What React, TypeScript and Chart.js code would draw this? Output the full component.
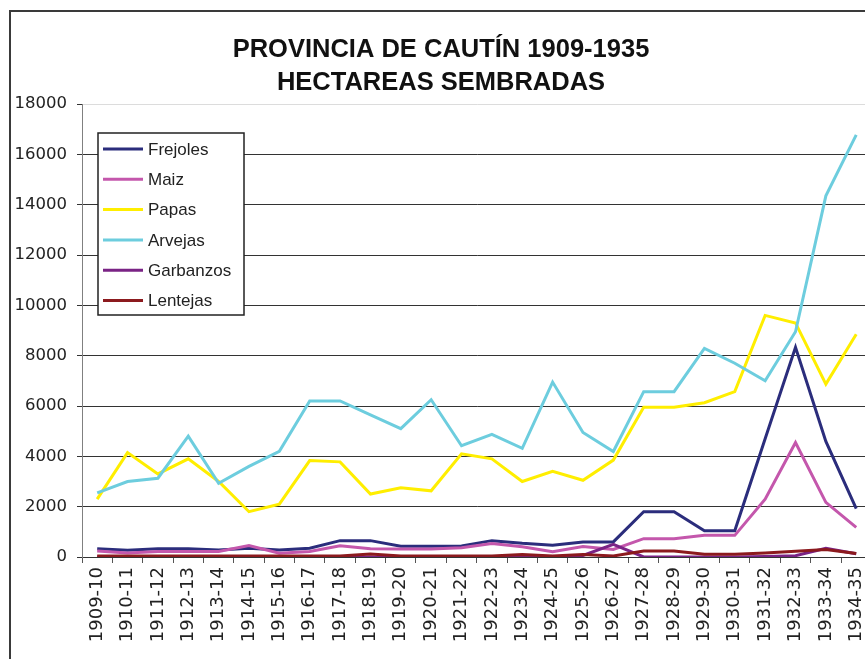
import React, { useEffect, useRef } from "react";
import { Chart, registerables } from "chart.js";

Chart.register(...registerables);

const categories = [
  "1909-10", "1910-11", "1911-12", "1912-13", "1913-14", "1914-15", "1915-16",
  "1916-17", "1917-18", "1918-19", "1919-20", "1920-21", "1921-22", "1922-23",
  "1923-24", "1924-25", "1925-26", "1926-27", "1927-28", "1928-29", "1929-30",
  "1930-31", "1931-32", "1932-33", "1933-34", "1934-35",
];

const frejoles = [330, 265, 330, 330, 280, 350, 280, 345, 650, 650, 430, 430, 440, 650, 544, 465, 600, 600, 1800, 1800, 1040, 1040, 4700, 8330, 4590, 1920];
const maiz = [240, 160, 220, 220, 220, 460, 150, 220, 450, 330, 320, 320, 370, 540, 410, 212, 420, 300, 730, 730, 860, 860, 2300, 4550, 2170, 1180];
const papas = [2300, 4150, 3300, 3900, 3000, 1800, 2100, 3830, 3780, 2500, 2750, 2630, 4100, 3900, 3000, 3400, 3050, 3850, 5950, 5950, 6130, 6570, 9600, 9300, 6870, 8850];
const arvejas = [2550, 3000, 3130, 4800, 2930, 3600, 4200, 6200, 6200, 5650, 5100, 6250, 4420, 4870, 4320, 6950, 4950, 4190, 6570, 6570, 8290, 7700, 7000, 8950, 14350, 16770];
const garbanzos = [0, 0, 0, 0, 0, 0, 0, 0, 0, 0, 0, 0, 0, 0, 0, 0, 60, 500, 0, 0, 0, 0, 20, 50, 350, 130];
const lentejas = [40, 40, 40, 40, 40, 40, 40, 40, 40, 120, 40, 40, 40, 40, 100, 40, 100, 40, 240, 240, 110, 110, 160, 230, 300, 140];

const seriesNames = ["Frejoles", "Maiz", "Papas", "Arvejas", "Garbanzos", "Lentejas"];
const seriesValues = [frejoles, maiz, papas, arvejas, garbanzos, lentejas];
const seriesColors = ["#2B2D7C", "#C457AC", "#FFEE00", "#6DCDDE", "#7A2385", "#8C1A1E"];

const yMin = 0;
const yMax = 18000;
const yStep = 2000;

const titleLines = ["PROVINCIA DE CAUTÍN 1909-1935", "HECTAREAS SEMBRADAS"];

const W = 882;
const H = 659;

const framePlugin = {
  id: "outerFrame",
  beforeDraw(chart: any) {
    const ctx = chart.ctx;
    ctx.save();
    ctx.fillStyle = "#ffffff";
    ctx.fillRect(0, 0, chart.width, chart.height);
    ctx.strokeStyle = "#3a3a3a";
    ctx.lineWidth = 2;
    ctx.beginPath();
    ctx.moveTo(10, chart.height);
    ctx.lineTo(10, 11);
    ctx.lineTo(chart.width, 11);
    ctx.stroke();
    ctx.restore();
  },
};

const boxLegendPlugin = {
  id: "boxLegend",
  afterDraw(chart: any) {
    const ctx = chart.ctx;
    const area = chart.chartArea;
    const left = area.left + 16;
    const top = area.top + 29;
    const w = 146;
    const h = 182;
    ctx.save();
    ctx.fillStyle = "#ffffff";
    ctx.fillRect(left, top, w, h);
    ctx.strokeStyle = "#222";
    ctx.lineWidth = 1.5;
    ctx.strokeRect(left, top, w, h);
    ctx.font = "17px 'Liberation Sans', Arial, sans-serif";
    ctx.textBaseline = "middle";
    ctx.textAlign = "left";
    chart.data.datasets.forEach((ds: any, i: number) => {
      const y = top + 16 + i * 30.3;
      ctx.strokeStyle = ds.borderColor;
      ctx.lineWidth = 3;
      ctx.beginPath();
      ctx.moveTo(left + 5, y);
      ctx.lineTo(left + 45, y);
      ctx.stroke();
      ctx.fillStyle = "#222";
      ctx.fillText(ds.label, left + 50, y + 1);
    });
    ctx.restore();
  },
};

export default function App() {
  const ref = useRef<HTMLCanvasElement>(null);

  useEffect(() => {
    document.body.style.overflow = "hidden";
    document.documentElement.style.overflow = "hidden";
    const yFont = { family: "'DejaVu Sans', Verdana, sans-serif", size: 16.5 };
    const xFont = { family: "'DejaVu Sans', Verdana, sans-serif", size: 18 };
    const chart = new Chart(ref.current as HTMLCanvasElement, {
      type: "line",
      data: {
        labels: categories,
        datasets: seriesNames.map((name, i) => ({
          label: name,
          data: seriesValues[i],
          borderColor: seriesColors[i],
          backgroundColor: seriesColors[i],
          borderWidth: 3,
          pointRadius: 0,
          pointHoverRadius: 0,
          tension: 0,
          fill: false,
          order: -i,
        })),
      },
      options: {
        animation: false,
        responsive: false,
        devicePixelRatio: 1,
        layout: { padding: { left: 9, right: 9, top: 0, bottom: 0 } },
        plugins: {
          legend: { display: false },
          tooltip: { enabled: false },
          title: {
            display: true,
            text: titleLines,
            color: "#111",
            font: { family: "'Liberation Sans', Arial, sans-serif", size: 25.5, weight: "bold", lineHeight: 33 / 25.5 },
            padding: { top: 33, bottom: 5 },
          },
        },
        scales: {
          x: {
            type: "category",
            offset: true,
            grid: {
              offset: true,
              drawOnChartArea: false,
              drawTicks: true,
              tickLength: 6,
              tickColor: "#555",
              color: "#555",
            },
            border: { display: true, color: "#333", width: 1 },
            ticks: {
              autoSkip: false,
              minRotation: 90,
              maxRotation: 90,
              padding: 4,
              color: "#222",
              font: xFont,
            },
            afterFit: (s: any) => {
              s.height = 102;
            },
          },
          y: {
            min: yMin,
            max: yMax,
            ticks: {
              stepSize: yStep,
              padding: 10,
              color: "#222",
              font: yFont,
              callback: (v: any) => String(v),
            },
            grid: {
              color: (c: any) => (c.tick && c.tick.value === yMax ? "#dcdcdc" : "#333"),
              tickColor: "#333",
              tickLength: 5,
              lineWidth: 1,
            },
            border: { display: true, color: "#808080", width: 1 },
            afterFit: (s: any) => {
              s.width = 73;
            },
          },
        },
      },
      plugins: [framePlugin, boxLegendPlugin],
    } as any);
    return () => chart.destroy();
  }, []);

  return (
    <div style={{ position: "fixed", left: 0, top: 0, width: W, height: H, background: "#fff", overflow: "hidden" }}>
      <canvas ref={ref} width={W} height={H} style={{ display: "block", width: W, height: H }} />
    </div>
  );
}
